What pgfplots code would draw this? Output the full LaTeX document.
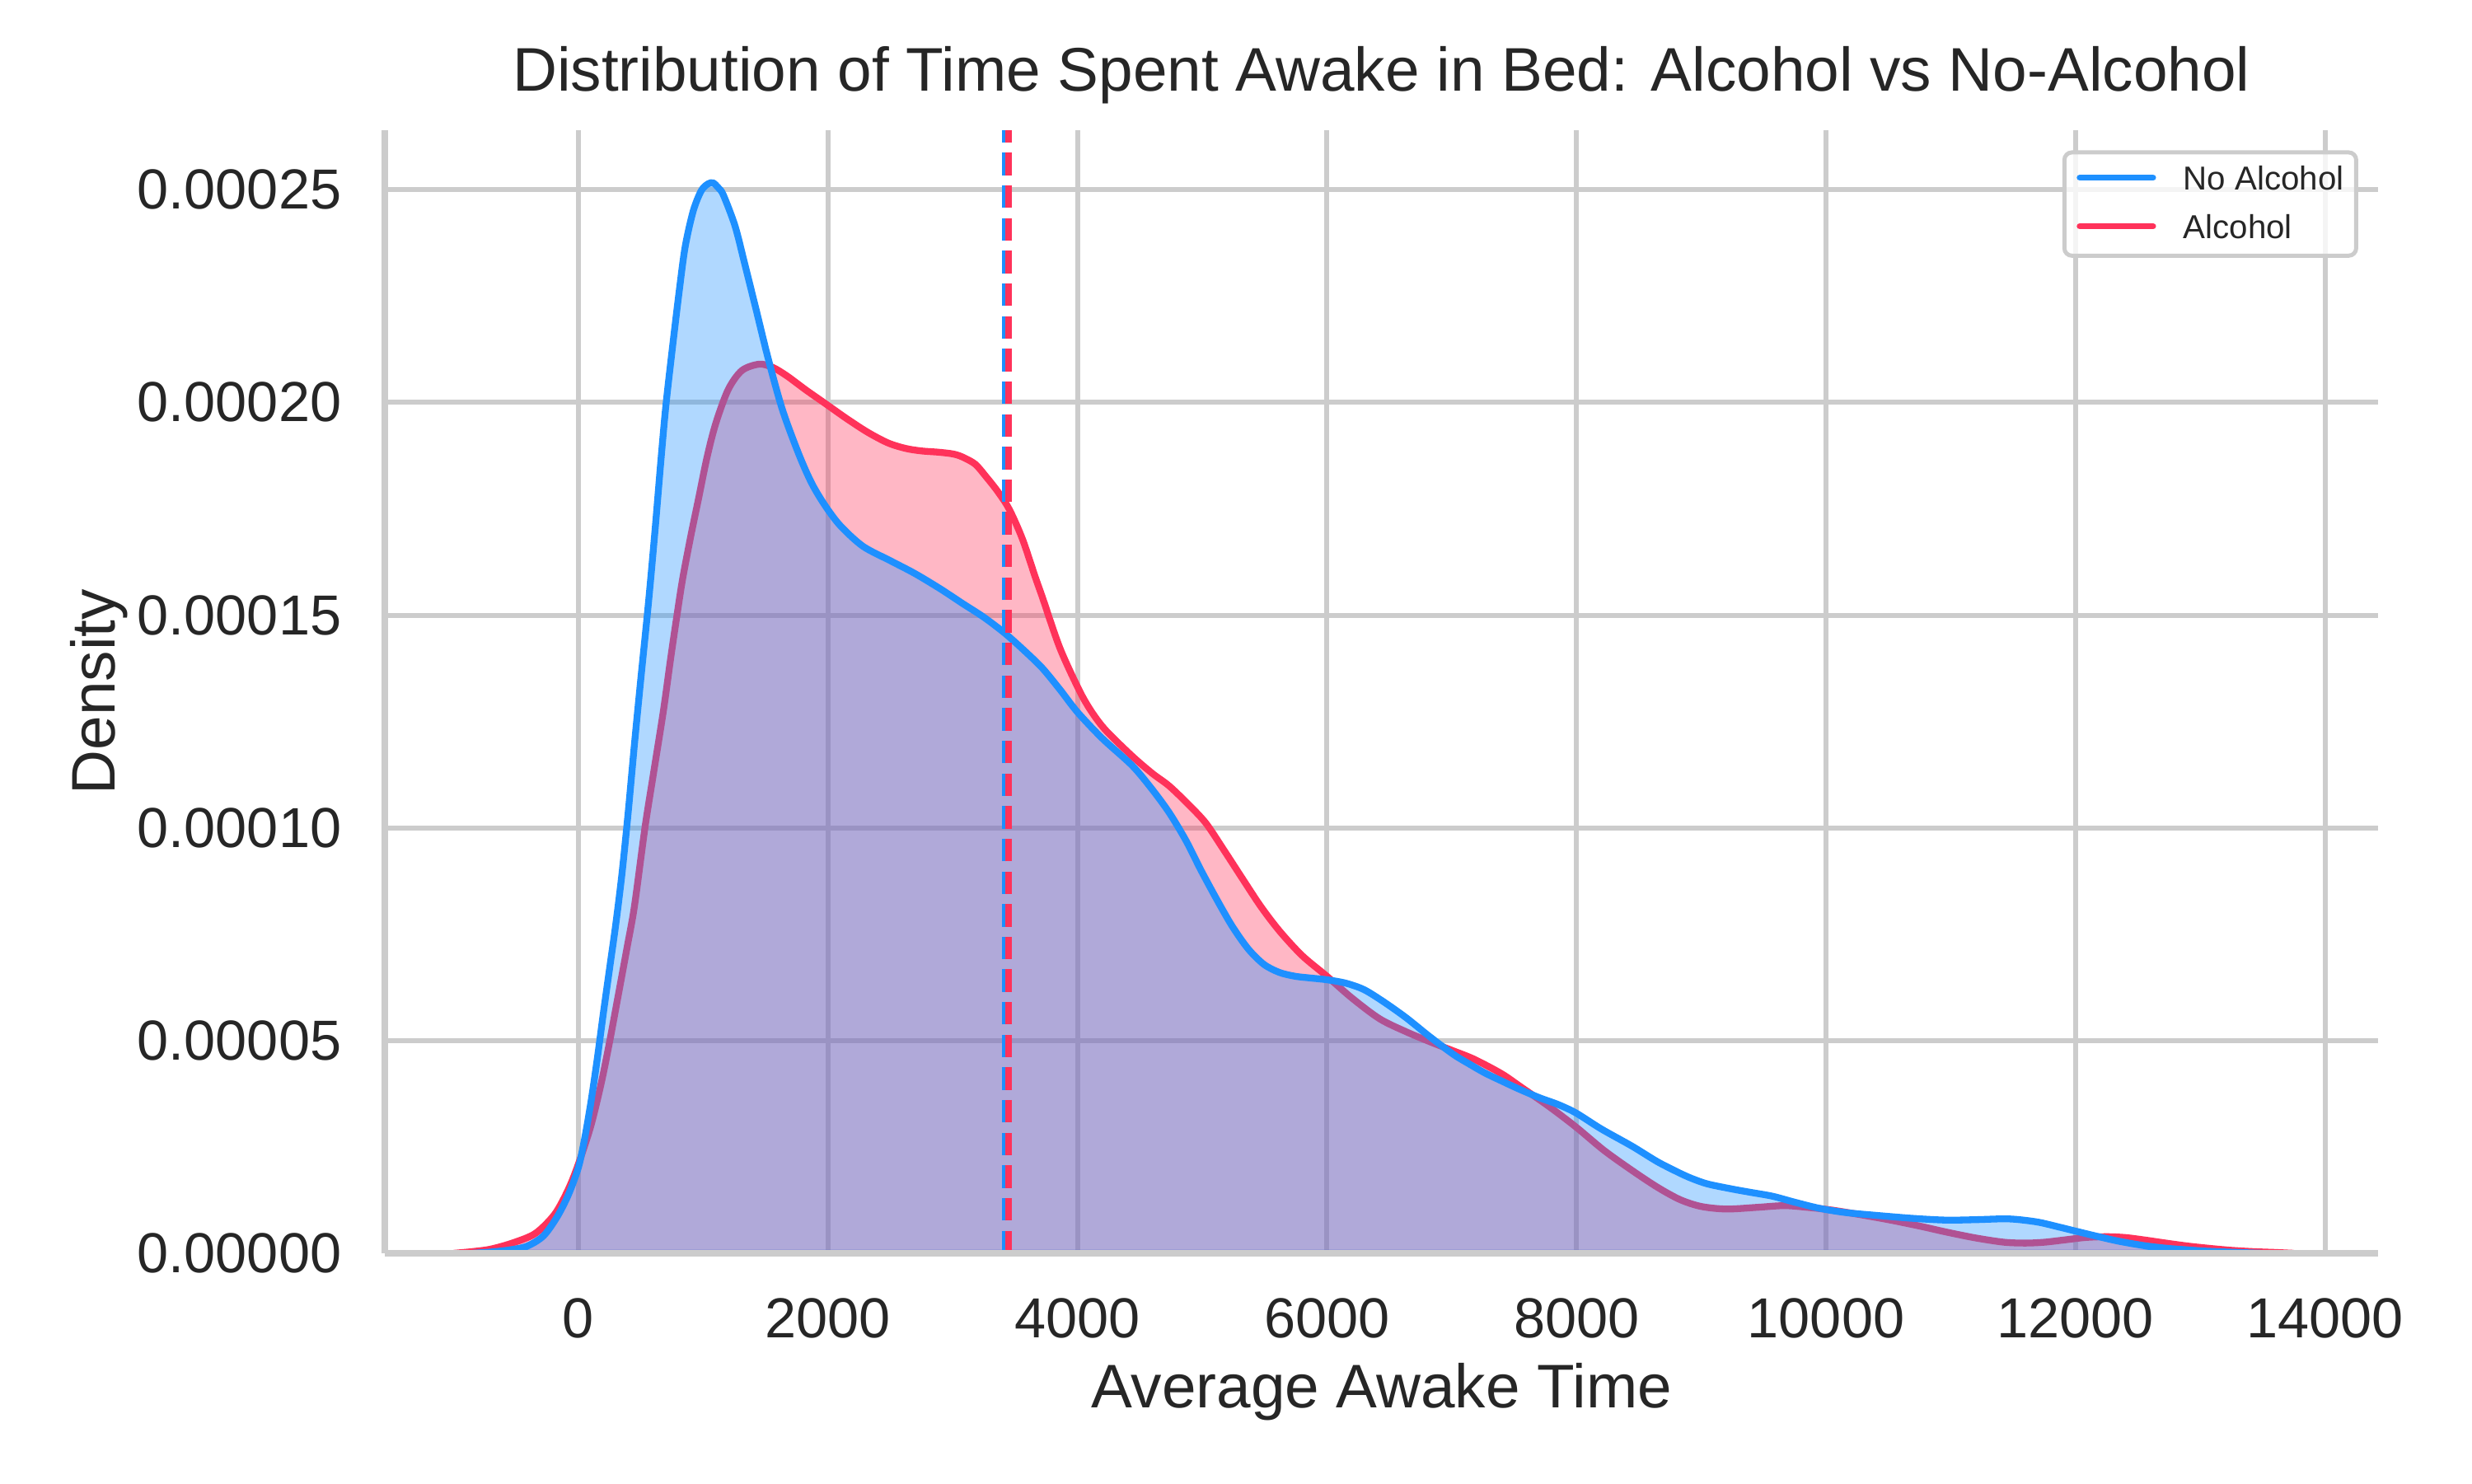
\documentclass[border=0pt]{standalone}
\usepackage{fontspec}
\setmainfont{Liberation Sans}
\usepackage{pgfplots}
\usepackage{pgfplotstable}
\pgfplotsset{compat=1.18}
\definecolor{noalc}{HTML}{1E90FF}
\definecolor{alc}{HTML}{FF325A}
\definecolor{gridgray}{HTML}{CCCCCC}
\definecolor{textgray}{HTML}{262626}

\pgfplotstableread{
x y
-850 0
-700 0.03e-5
-550 0.08e-5
-410 0.17e-5
-280 0.41e-5
-170 0.86e-5
-80 1.38e-5
0 2.02e-5
50 2.70e-5
100 3.55e-5
150 4.55e-5
200 5.65e-5
250 6.70e-5
300 7.75e-5
350 8.95e-5
400 10.4e-5
450 12.0e-5
500 13.5e-5
550 14.95e-5
581 15.91e-5
620 17.2e-5
660 18.6e-5
700 19.9e-5
750 21.2e-5
805 22.55e-5
855 23.65e-5
920 24.5e-5
985 24.98e-5
1040 25.14e-5
1080 25.16e-5
1120 25.05e-5
1161 24.88e-5
1255 24.15e-5
1331 23.28e-5
1426 22.16e-5
1521 21.03e-5
1635 19.83e-5
1767 18.78e-5
1870 18.10e-5
1976 17.58e-5
2100 17.10e-5
2280 16.62e-5
2500 16.28e-5
2696 15.98e-5
2900 15.62e-5
3076 15.28e-5
3250 14.95e-5
3420 14.57e-5
3580 14.15e-5
3720 13.75e-5
3860 13.25e-5
4000 12.72e-5
4200 12.10e-5
4440 11.46e-5
4600 10.90e-5
4737 10.35e-5
4870 9.70e-5
4989 9.01e-5
5120 8.30e-5
5242 7.68e-5
5370 7.15e-5
5495 6.79e-5
5620 6.60e-5
5748 6.51e-5
5870 6.47e-5
5999 6.43e-5
6150 6.35e-5
6295 6.20e-5
6450 5.92e-5
6633 5.54e-5
6820 5.10e-5
7011 4.68e-5
7140 4.45e-5
7265 4.24e-5
7400 4.05e-5
7532 3.87e-5
7700 3.66e-5
7850 3.50e-5
7995 3.30e-5
8200 2.92e-5
8444 2.52e-5
8650 2.15e-5
8824 1.89e-5
8923 1.76e-5
9050 1.63e-5
9248 1.51e-5
9400 1.43e-5
9573 1.34e-5
9750 1.20e-5
9943 1.06e-5
10150 0.96e-5
10407 0.89e-5
10700 0.82e-5
10963 0.78e-5
11200 0.79e-5
11427 0.81e-5
11550 0.79e-5
11704 0.73e-5
11850 0.63e-5
12030 0.50e-5
12200 0.38e-5
12353 0.28e-5
12550 0.18e-5
12724 0.12e-5
12900 0.08e-5
13050 0.05e-5
13300 0.02e-5
13500 0
}\noalcohol

\pgfplotstableread{
x y
-1000 0
-850 0.04e-5
-700 0.10e-5
-520 0.25e-5
-344 0.47e-5
-190 0.92e-5
-80 1.51e-5
0 2.10e-5
100 3.00e-5
185 4.03e-5
251 4.99e-5
317 6.03e-5
390 7.19e-5
449 8.16e-5
533 10.0e-5
600 11.25e-5
681 12.75e-5
740 14.0e-5
790 15.0e-5
835 15.85e-5
900 16.85e-5
960 17.7e-5
1030 18.7e-5
1100 19.5e-5
1200 20.3e-5
1310 20.75e-5
1450 20.90e-5
1560 20.82e-5
1673 20.62e-5
1820 20.3e-5
1976 19.98e-5
2150 19.62e-5
2318 19.30e-5
2480 19.05e-5
2621 18.92e-5
2750 18.86e-5
2887 18.83e-5
3000 18.79e-5
3076 18.72e-5
3180 18.55e-5
3266 18.26e-5
3350 17.95e-5
3436 17.58e-5
3500 17.20e-5
3569 16.71e-5
3660 15.91e-5
3720 15.41e-5
3860 14.22e-5
4020 13.20e-5
4120 12.70e-5
4231 12.28e-5
4441 11.68e-5
4600 11.28e-5
4737 10.98e-5
4900 10.52e-5
5032 10.10e-5
5180 9.45e-5
5326 8.79e-5
5470 8.15e-5
5621 7.57e-5
5800 7.00e-5
6000 6.51e-5
6200 6.00e-5
6423 5.51e-5
6640 5.20e-5
6844 4.95e-5
7020 4.75e-5
7181 4.56e-5
7400 4.22e-5
7559 3.90e-5
7780 3.45e-5
7995 2.97e-5
8220 2.42e-5
8444 1.95e-5
8650 1.55e-5
8831 1.26e-5
9000 1.10e-5
9202 1.04e-5
9450 1.08e-5
9665 1.12e-5
9850 1.08e-5
10036 1.02e-5
10250 0.92e-5
10499 0.79e-5
10750 0.64e-5
10963 0.50e-5
11200 0.36e-5
11427 0.26e-5
11600 0.24e-5
11750 0.26e-5
11900 0.31e-5
12076 0.37e-5
12250 0.39e-5
12400 0.37e-5
12560 0.31e-5
12724 0.24e-5
12900 0.17e-5
13095 0.11e-5
13250 0.07e-5
13420 0.04e-5
13600 0.02e-5
13750 0
}\alcohol

\begin{document}
\begin{tikzpicture}
\path[use as bounding box] (0,0) rectangle (722.7pt,433.62pt);
\begin{axis}[
  at={(112.50pt,67.21pt)}, anchor=south west,
  scale only axis, width=582.74pt, height=328.35pt,
  xmin=-1552, xmax=14425, ymin=0, ymax=0.000264,
  clip mode=individual,
  axis line style={draw=none},
  major tick length=0pt,
  tick style={draw=none},
  grid=major,
  major grid style={gridgray, line width=1.45pt},
  scaled x ticks=false, scaled y ticks=false,
  xtick={0,2000,4000,6000,8000,10000,12000,14000},
  xticklabels={0,2000,4000,6000,8000,10000,12000,14000},
  ytick={0,0.00005,0.0001,0.00015,0.0002,0.00025},
  yticklabels={0.00000,0.00005,0.00010,0.00015,0.00020,0.00025},
  xticklabel style={anchor=base, yshift=-24.8pt, inner sep=0pt, text=textgray, font=\fontsize{16.5}{19.8}\selectfont},
  yticklabel style={anchor=east, xshift=-12.5pt, inner sep=0pt, text=textgray, font=\fontsize{16.5}{19.8}\selectfont},
  title={Distribution of Time Spent Awake in Bed: Alcohol vs No-Alcohol},
  title style={at={(axis description cs:0.5,1.01687)}, anchor=base, inner sep=0pt, text=textgray, font=\fontsize{18}{21}\selectfont},
  xlabel={Average Awake Time},
  xlabel style={at={(axis description cs:0.5,-0.13742)}, anchor=base, inner sep=0pt, text=textgray, font=\fontsize{18}{21}\selectfont},
  ylabel={Density},
  ylabel style={at={(axis description cs:-0.13547,0.5)}, anchor=base, rotate=0, inner sep=0pt, text=textgray, font=\fontsize{18}{21}\selectfont},
  legend image code/.code={\draw[#1, line cap=round] (0pt,3.5pt) -- (21.4pt,3.5pt);},
  legend style={at={(1,1)}, anchor=north east, xshift=-5.8pt, yshift=-5.9pt,
    draw=gridgray, line width=1.2pt, rounded corners=2.2pt,
    fill=white, fill opacity=0.8, draw opacity=1, text opacity=1,
    font=\fontsize{9.7}{11}\selectfont, text=textgray,
    inner xsep=3.6pt, inner ysep=3.9pt,
    row sep=6pt, column sep=8pt,
    nodes={inner sep=0pt, text height=7pt, text depth=1.2pt},
    cells={anchor=base west}},
]
\addlegendimage{noalc, line width=1.8pt}
\addlegendentry{No Alcohol}
\addlegendimage{alc, line width=1.8pt}
\addlegendentry{Alcohol}

\addplot[forget plot, smooth, draw=alc, line width=2pt, fill=alc, fill opacity=0.35] table[x=x,y=y] {\alcohol} \closedcycle;
\addplot[forget plot, smooth, draw=noalc, line width=2pt, fill=noalc, fill opacity=0.35] table[x=x,y=y] {\noalcohol} \closedcycle;

\addplot[forget plot, noalc, line width=2pt, dash pattern=on 6.6pt off 2.95pt] coordinates {(3420,0) (3420,0.000264)};
\addplot[forget plot, alc, line width=2pt, dash pattern=on 6.6pt off 2.95pt] coordinates {(3450,0) (3450,0.000264)};

\draw[gridgray, line width=1.9pt] (rel axis cs:0,0) -- (rel axis cs:1,0);
\draw[gridgray, line width=1.9pt] (rel axis cs:0,0) -- (rel axis cs:0,1);
\end{axis}
\end{tikzpicture}
\end{document}
